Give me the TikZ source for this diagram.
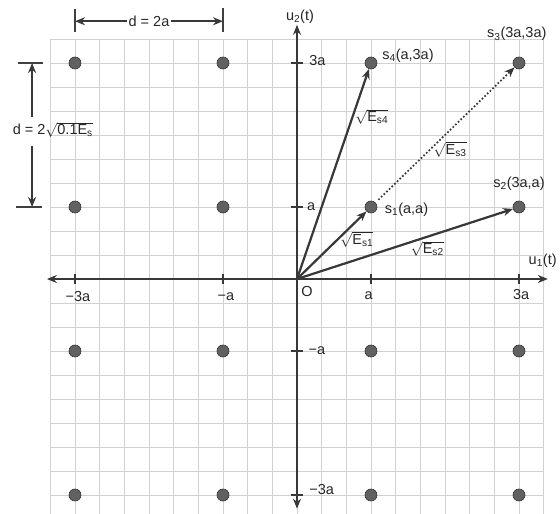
\documentclass[tikz,border=0pt]{standalone}
\usepackage{fontspec}
\setmainfont{Liberation Sans}
\usetikzlibrary{arrows.meta}
\begin{document}
\begin{tikzpicture}[x=74pt,y=72pt,
  font=\fontsize{14.5}{16}\selectfont,
  ink/.style={draw=black!78, line width=1.9pt},
  thinink/.style={draw=black!75, line width=1.2pt},
  dotpt/.style={circle, fill=black!62, draw=black!80, line width=0.6pt, inner sep=0pt, minimum size=12pt},
  lbl/.style={text=black!85, inner sep=1pt},
  tickmark/.style={draw=black!78, line width=1.6pt},
  tipend/.style={-{Stealth[length=10pt,width=8pt]}},
  bothtips/.style={{Stealth[length=10pt,width=8pt]}-{Stealth[length=10pt,width=8pt]}},
  gridline/.style={draw=black!18, line width=0.5pt}
]
\useasboundingbox (-297/74,-235/72) rectangle (263/74,279/72);
\fill[white] (-297/74,-235/72) rectangle (263/74,279/72);
% grid
\begin{scope}
\clip (-297/74,-235/72) rectangle (263/74,279/72);
\draw[gridline, xstep=1/3, ystep=1/3] (-10/3,-3.4) grid (10/3,10/3);
\end{scope}
% axes
\coordinate (O) at (0,0);
\coordinate (xl) at (-3.38,0);
\coordinate (xr) at (3.39,0);
\coordinate (yb) at (0,-3.19);
\coordinate (yt) at (0,3.53);
\draw[ink, bothtips] (xl) -- (xr);
\draw[ink, bothtips] (yb) -- (yt);
\foreach \v in {-3,-1,1,3} {
  \draw[tickmark] (\v,-0.075) -- (\v,0.075);
  \draw[tickmark] (-0.075,\v) -- (0.075,\v);
}
% axis labels
\node[lbl] (u2) at (0.04,3.64) {u\textsubscript{2}(t)};
\node[lbl] (u1) at (3.32,0.25) {u\textsubscript{1}(t)};
\node[lbl] (lO) at (0.135,-0.17) {O};
\node[lbl] (xm3) at (-2.96,-0.25) {−3a};
\node[lbl] (xm1) at (-0.96,-0.25) {−a};
\node[lbl] (xp1) at (0.97,-0.23) {a};
\node[lbl] (xp3) at (3.03,-0.21) {3a};
\node[lbl, anchor=west] (yp3) at (0.15,3.04) {3a};
\node[lbl, anchor=west] (yp1) at (0.12,1.01) {a};
\node[lbl, anchor=west] (ym1) at (0.14,-0.99) {−a};
\node[lbl, anchor=west] (ym3) at (0.15,-2.93) {−3a};
% points
\node[dotpt] (s1) at (1,1) {};
\node[dotpt] (s2) at (3,1) {};
\node[dotpt] (s3) at (3,3) {};
\node[dotpt] (s4) at (1,3) {};
\node[dotpt] (p1) at (-3,3) {};
\node[dotpt] (p2) at (-1,3) {};
\node[dotpt] (p3) at (-3,1) {};
\node[dotpt] (p4) at (-1,1) {};
\node[dotpt] (p5) at (-3,-1) {};
\node[dotpt] (p6) at (-1,-1) {};
\node[dotpt] (p7) at (-3,-3) {};
\node[dotpt] (p8) at (-1,-3) {};
\node[dotpt] (p9) at (1,-1) {};
\node[dotpt] (p10) at (3,-1) {};
\node[dotpt] (p11) at (1,-3) {};
\node[dotpt] (p12) at (3,-3) {};
% vectors
\draw[ink, line width=2.2pt, tipend] (O) -- (s1);
\draw[ink, line width=2.2pt, tipend] (O) -- (s2);
\draw[ink, line width=2.2pt, tipend] (O) -- (s4);
\draw[draw=black!78, line width=1.7pt, dotted, tipend, shorten <=4pt] (s1) -- (s3);
% point labels
\node[lbl] (l4) at (1.50,3.1) {s\textsubscript{4}(a,3a)};
\node[lbl] (l3) at (2.97,3.40) {s\textsubscript{3}(3a,3a)};
\node[lbl] (l2) at (3.0,1.32) {s\textsubscript{2}(3a,a)};
\node[lbl] (l1) at (1.48,0.96) {s\textsubscript{1}(a,a)};
\node[lbl] (e4) at (1.01,2.25) {$\sqrt{\mbox{E\textsubscript{s4}}}$};
\node[lbl] (e3) at (2.07,1.80) {$\sqrt{\mbox{E\textsubscript{s3}}}$};
\node[lbl] (e1) at (0.81,0.55) {$\sqrt{\mbox{E\textsubscript{s1}}}$};
\node[lbl] (e2) at (1.76,0.42) {$\sqrt{\mbox{E\textsubscript{s2}}}$};
% dimension: horizontal
\draw[thinink] (-3,3.43) -- (-3,3.75);
\draw[thinink] (-1,3.43) -- (-1,3.77);
\node[lbl] (dh) at (-2,3.58) {d = 2a};
\coordinate (dhl) at (-3,3.58);
\coordinate (dhr) at (-1,3.58);
\draw[ink, tipend] (dh.west) -- (dhl);
\draw[ink, tipend] (dh.east) -- (dhr);
% dimension: vertical
\draw[thinink] (-3.77,3) -- (-3.43,3);
\draw[thinink] (-3.80,1) -- (-3.45,1);
\node[lbl] (dv) at (-3.30,2.07) {d = 2$\sqrt{\mbox{0.1E\textsubscript{s}}}$};
\coordinate (dvu0) at (-3.58,2.25);
\coordinate (dvu) at (-3.58,3);
\coordinate (dvd0) at (-3.58,1.85);
\coordinate (dvd) at (-3.58,1);
\draw[ink, tipend] (dvu0) -- (dvu);
\draw[ink, tipend] (dvd0) -- (dvd);
\end{tikzpicture}
\end{document}
